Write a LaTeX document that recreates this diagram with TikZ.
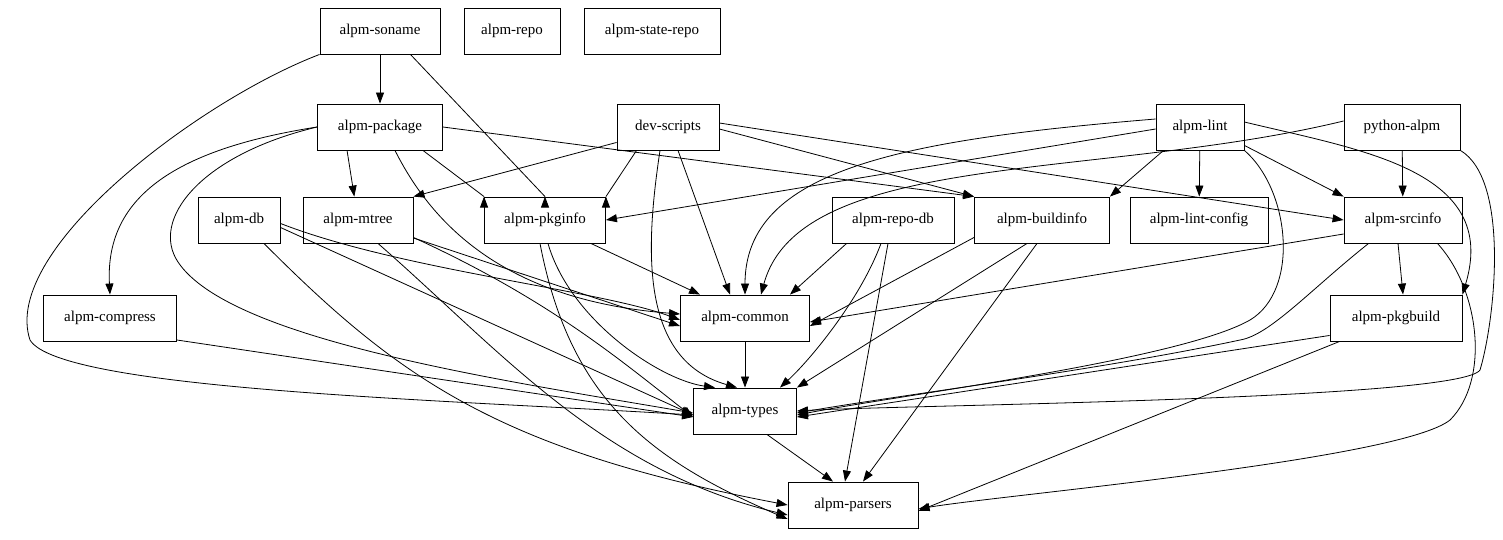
\documentclass[tikz,border=0pt]{standalone}
\usepackage{fontspec}
\setmainfont{Liberation Serif}
\usetikzlibrary{arrows.meta}
\begin{document}
\begin{tikzpicture}[x=1pt,y=-1pt,
  n/.style={draw,line width=0.9pt,inner sep=0pt,minimum height=46pt,font=\fontsize{15}{17}\selectfont},
  e/.style={line width=0.8pt,-{Triangle[length=11pt,width=8pt]}}]
\useasboundingbox (0,0) rectangle (1503,539);
\node[n,minimum width=120pt] (soname) at (380,31) {alpm-soname};
\node[n,minimum width=96pt] (repo) at (512,31) {alpm-repo};
\node[n,minimum width=136pt] (staterepo) at (652,31) {alpm-state-repo};
\node[n,minimum width=125pt] (package) at (380,127) {alpm-package};
\node[n,minimum width=102pt] (dev) at (668,127) {dev-scripts};
\node[n,minimum width=88pt] (lint) at (1200,127) {alpm-lint};
\node[n,minimum width=116pt] (python) at (1402,127) {python-alpm};
\node[n,minimum width=82pt] (db) at (239,220) {alpm-db};
\node[n,minimum width=110pt] (mtree) at (358,220) {alpm-mtree};
\node[n,minimum width=121pt] (pkginfo) at (545,220) {alpm-pkginfo};
\node[n,minimum width=122pt] (repodb) at (893,220) {alpm-repo-db};
\node[n,minimum width=135pt] (buildinfo) at (1042,220) {alpm-buildinfo};
\node[n,minimum width=138pt] (lintconfig) at (1199,220) {alpm-lint-config};
\node[n,minimum width=118pt] (srcinfo) at (1403,220) {alpm-srcinfo};
\node[n,minimum width=133pt] (compress) at (110,318) {alpm-compress};
\node[n,minimum width=129pt] (common) at (745,318) {alpm-common};
\node[n,minimum width=132pt] (pkgbuild) at (1396,318) {alpm-pkgbuild};
\node[n,minimum width=103pt] (types) at (745,411) {alpm-types};
\node[n,minimum width=130pt] (parsers) at (853,505) {alpm-parsers};

% soname
\draw[e] (soname) -- (package);
\draw[e] (soname.south east) ++(-30,0) -- (pkginfo.north) ++(0,0);
\draw[e] (soname.south west) .. controls (200,100) and (0,250) .. (30,340) .. controls (60,390) and (450,400) .. ([yshift=-4pt]types.west);
% package
\draw[e] (package.south west) ++(30,0) -- (mtree);
\draw[e] (package.south east) ++(-20,0) -- (pkginfo.north west) ++(0,0);
\draw[e] (package.east) -- (buildinfo.north west);
\draw[e] (package.west) .. controls (170,150) and (105,200) .. (compress.north);
\draw[e] (package.west) .. controls (200,155) and (150,220) .. (178,262) .. controls (230,340) and (500,380) .. ([yshift=-2pt]types.west);
\draw[e] (package.south) ++(15,0) .. controls (430,220) and (500,300) .. ([yshift=4pt]common.west);
% dev-scripts
\draw[e] (dev.south west) ++(0,-8) -- (mtree.north east);
\draw[e] (dev.south west) ++(20,0) -- (pkginfo.north east) ++(0,0);
\draw[e] (dev.south) ++(-8,0) .. controls (645,250) and (640,360) .. ([xshift=-8pt]types.north);
\draw[e] (dev.south) ++(10,0) -- ([xshift=-15pt]common.north);
\draw[e] (dev.east) ++(0,2) -- (buildinfo.north west);
\draw[e] (dev.east) ++(0,-4) -- (srcinfo.west);
% lint
\draw[e] (lint.west) ++(0,-8) .. controls (900,140) and (745,170) .. (common.north);
\draw[e] (lint.west) ++(0,2) -- (pkginfo.east);
\draw[e] (lint.south west) ++(8,0) -- (buildinfo.north east);
\draw[e] (lint) -- (lintconfig);
\draw[e] (lint.south east) ++(0,-5) -- (srcinfo.north west);
\draw[e] (lint.east) ++(0,-5) .. controls (1360,150) and (1500,170) .. (pkgbuild.north east);
\draw[e] (lint.south east) .. controls (1290,190) and (1300,290) .. (1250,320) .. controls (1180,360) and (900,395) .. ([yshift=-4pt]types.east);
% python
\draw[e] (python.west) ++(0,-6) .. controls (1100,180) and (800,150) .. ([xshift=16pt]common.north);
\draw[e] (python) -- (srcinfo);
\draw[e] (python.south east) .. controls (1510,180) and (1495,320) .. (1480,370) .. controls (1460,400) and (900,405) .. (types.east);
% row 3
\draw[e] (db.south east) ++(0,-20) .. controls (400,270) and (600,290) .. ([yshift=-2pt]common.west);
\draw[e] (db.south east) ++(0,-16) -- ([yshift=-4pt]types.west);
\draw[e] (db.south) ++(25,0) .. controls (400,380) and (500,450) .. (parsers.west);
\draw[e] (mtree.east) ++(0,18) -- ([yshift=-8pt]common.west);
\draw[e] (mtree.south east) ++(0,-6) .. controls (550,300) and (620,360) .. ([yshift=-6pt]types.west);
\draw[e] (mtree.south) ++(20,0) .. controls (500,350) and (600,470) .. ([yshift=-10pt]parsers.west);
\draw[e] (pkginfo.south east) ++(-15,0) -- ([xshift=-45pt]common.north);
\draw[e] (pkginfo.south) ++(3,0) .. controls (570,320) and (660,380) .. ([xshift=-30pt]types.north);
\draw[e] (pkginfo.south) ++(-5,0) .. controls (570,400) and (650,460) .. ([yshift=-14pt]parsers.west);
\draw[e] (repodb.south west) ++(15,0) -- ([xshift=45pt]common.north);
\draw[e] (repodb.south) ++(-12,0) .. controls (860,300) and (810,360) .. ([xshift=35pt]types.north);
\draw[e] (repodb.south) ++(-5,0) -- ([xshift=-8pt]parsers.north);
\draw[e] (buildinfo.south west) ++(0,-6) -- ([yshift=-8pt]common.east);
\draw[e] (buildinfo.south) ++(-15,0) -- (types.north east);
\draw[e] (buildinfo.south) ++(-5,0) -- ([xshift=10pt]parsers.north);
\draw[e] (srcinfo.west) ++(0,14) -- ([yshift=-4pt]common.east);
\draw[e] (srcinfo.south west) ++(25,0) .. controls (1310,290) and (1270,335) .. (1240,340) .. controls (1100,370) and (900,395) .. ([yshift=-2pt]types.east);
\draw[e] (srcinfo.south) ++(-5,0) -- ([xshift=7pt]pkgbuild.north);
\draw[e] (srcinfo.south east) ++(-25,0) .. controls (1480,290) and (1490,380) .. (1450,420) .. controls (1400,460) and (1000,495) .. ([yshift=-4pt]parsers.east);
\draw[e] (pkgbuild.south west) ++(0,-6) -- ([yshift=-6pt]types.east);
\draw[e] (pkgbuild.south west) ++(10,0) -- ([yshift=-6pt]parsers.east);
\draw[e] (compress.east) ++(0,22) -- ([yshift=-6pt]types.west);
\draw[e] (common) -- (types);
\draw[e] (types.south east) ++(-30,0) -- ([xshift=-20pt]parsers.north);
\end{tikzpicture}
\end{document}
